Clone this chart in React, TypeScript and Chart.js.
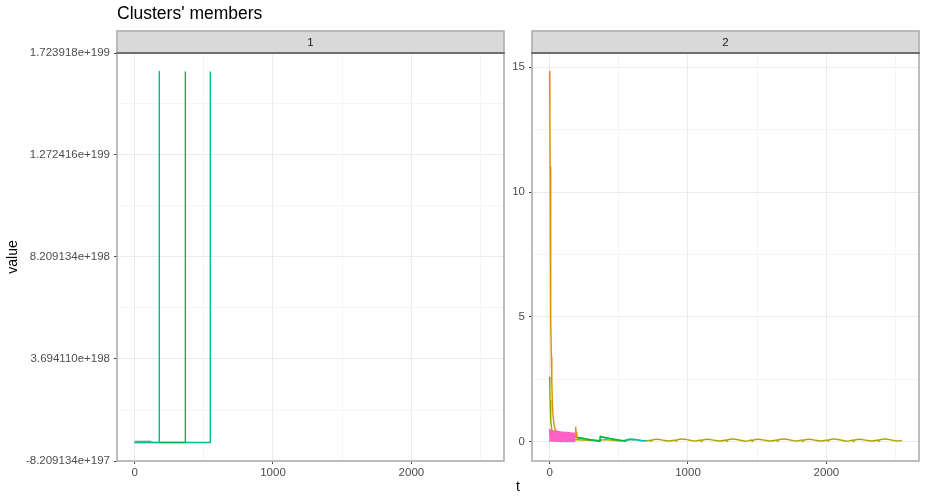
import React, { useEffect, useRef } from 'react';
import { Chart, registerables } from 'chart.js';
Chart.register(...registerables);

const FONT = "'Liberation Sans', Arial, Helvetica, sans-serif";
const GRID_MAJOR = '#EBEBEB';
const GRID_MINOR = '#F5F5F5';
const TICK_TEXT = '#4D4D4D';
const TICK_MARK = '#444444';

// ---- shared x axis ----
const xMin = -127;
const xMax = 2669;
const xMajor = [0, 1000, 2000];
const xMajorLabels = ['0', '1000', '2000'];
const xMinor = [500, 1500, 2500];

// ---- panel 1 y axis ----
const p1YMin = -8.209134e197;
const p1YMax = 1.723918e199;
const p1YMajor = [-8.209134e197, 3.69411e198, 8.209134e198, 1.272416e199, 1.723918e199];
const p1YMajorLabels = ['-8.209134e+197', '3.694110e+198', '8.209134e+198', '1.272416e+199', '1.723918e+199'];
const p1YMinor = [1.436598e198, 5.951622e198, 1.046665e199, 1.498167e199];

// ---- panel 2 y axis ----
const p2YMin = -0.77;
const p2YMax = 15.57;
const p2YMajor = [0, 5, 10, 15];
const p2YMajorLabels = ['0', '5', '10', '15'];
const p2YMinor = [2.5, 7.5, 12.5];

// ---- panel 1 series ----
const p1LightT = [0, 177, 178, 179, 546, 547];
const p1LightV = [0, 0, 1.641827e199, 0, 0, 1.641827e199];
const p1DarkT = [178, 366, 367];
const p1DarkV = [0, 0, 1.641827e199];
const p1CyanT = [0, 178];
const p1CyanV = [0, 0];
const p1GrayT = [0, 122];
const p1GrayV = [5e196, 5e196];

// ---- panel 2 series ----
const goldT = [0, 2, 4, 6, 8, 10, 13, 16, 20, 25, 32, 40, 55, 75, 100, 130, 160, 186, 189, 192, 197, 205, 220];
const goldV = [14.83, 13.2, 11.0, 8.6, 6.5, 4.9, 3.4, 2.4, 1.6, 1.05, 0.7, 0.5, 0.36, 0.28, 0.24, 0.21, 0.19, 0.18, 0.58, 0.35, 0.2, 0.12, 0.08];

const ygT = [0, 2, 4, 7, 10, 14, 19, 25, 33, 45, 70, 110, 150, 185];
const ygV = [2.59, 2.1, 1.65, 1.2, 0.85, 0.58, 0.4, 0.28, 0.2, 0.15, 0.12, 0.1, 0.09, 0.08];

const pinkT = [0, 4, 8, 12, 16, 20, 24, 28, 32, 36, 40, 44, 48, 52, 56, 60, 64, 68, 72, 76, 80, 84, 88, 92, 96, 100, 104, 108, 112, 116, 120, 124, 128, 132, 136, 140, 144, 148, 152, 156, 160, 164, 168, 172, 176, 180, 184];
const pinkV = [0.52, 0.04, 0.47, 0.03, 0.45, 0.05, 0.44, 0.02, 0.43, 0.04, 0.42, 0.03, 0.42, 0.05, 0.41, 0.03, 0.4, 0.04, 0.4, 0.02, 0.39, 0.04, 0.39, 0.03, 0.38, 0.05, 0.38, 0.03, 0.37, 0.04, 0.37, 0.02, 0.37, 0.04, 0.36, 0.03, 0.36, 0.05, 0.36, 0.03, 0.35, 0.04, 0.35, 0.02, 0.35, 0.04, 0.34];

const blueT = [0, 10, 30, 60, 100, 140, 185];
const blueV = [0.02, 0.1, 0.04, 0.02, 0.01, 0.02, 0.01];

const greenT = [183, 186, 210, 250, 300, 340, 364, 366, 369, 400, 450, 500, 540, 549];
const greenV = [0.2, 0.19, 0.17, 0.13, 0.08, 0.05, 0.03, 0.22, 0.21, 0.17, 0.12, 0.07, 0.04, 0.04];

const tealT = [183, 186, 210, 250, 300, 340, 364, 366, 369, 400, 450, 500, 545, 549, 553, 580, 610];
const tealV = [0.17, 0.17, 0.15, 0.12, 0.07, 0.04, 0.02, 0.19, 0.19, 0.16, 0.11, 0.06, 0.03, 0.01, 0.06, 0.09, 0.07];

const cyanT = [549, 553, 590, 630, 670, 700];
const cyanV = [0.02, 0.07, 0.1, 0.08, 0.04, 0.05];

const oliveT = [183, 187, 230, 275, 320, 362, 366, 370, 413, 458, 503, 545, 549, 553, 596, 641, 686, 728, 732, 736, 779, 824, 869, 911, 915, 919, 962, 1007, 1052, 1094, 1098, 1102, 1145, 1190, 1235, 1277, 1281, 1285, 1328, 1373, 1418, 1460, 1464, 1468, 1511, 1556, 1601, 1643, 1647, 1651, 1694, 1739, 1784, 1826, 1830, 1834, 1877, 1922, 1967, 2009, 2013, 2017, 2060, 2105, 2150, 2192, 2196, 2200, 2243, 2288, 2333, 2375, 2379, 2383, 2426, 2471, 2516, 2545];
const oliveV = [0.05, 0.08, 0.07, 0.06, 0.05, 0.06, 0.04, 0.07, 0.08, 0.06, 0.04, 0.05, 0.03, 0.07, 0.1, 0.07, 0.03, 0.06, 0.01, 0.06, 0.1, 0.06, 0.03, 0.07, 0.01, 0.07, 0.11, 0.07, 0.03, 0.07, 0.0, 0.06, 0.1, 0.06, 0.03, 0.07, 0.01, 0.07, 0.11, 0.07, 0.02, 0.07, 0.0, 0.06, 0.1, 0.06, 0.03, 0.07, 0.01, 0.07, 0.11, 0.07, 0.03, 0.07, 0.0, 0.06, 0.1, 0.06, 0.03, 0.07, 0.01, 0.07, 0.11, 0.07, 0.02, 0.07, 0.0, 0.06, 0.1, 0.06, 0.03, 0.07, 0.01, 0.07, 0.11, 0.07, 0.03, 0.06];

function series(t: number[], v: number[], color: string, tension = 0) {
  return {
    data: t.map((x, i) => ({ x, y: v[i] })),
    borderColor: color,
    backgroundColor: color,
    borderWidth: 1.4,
    pointRadius: 0,
    tension,
    fill: false,
    borderJoinStyle: 'round' as const,
  };
}

const STRIP_TOP = 31;

function decorPlugin(stripLabel: string, extra?: (ctx: CanvasRenderingContext2D) => void) {
  return {
    id: 'decor' + stripLabel,
    afterDatasetsDraw(chart: any) {
      const ctx: CanvasRenderingContext2D = chart.ctx;
      const a = chart.chartArea;
      ctx.save();
      // panel border
      ctx.strokeStyle = '#ADADAD';
      ctx.lineWidth = 1.6;
      ctx.strokeRect(a.left, a.top, a.right - a.left, a.bottom - a.top);
      // strip
      ctx.fillStyle = '#D9D9D9';
      ctx.fillRect(a.left, STRIP_TOP, a.right - a.left, a.top - STRIP_TOP);
      ctx.strokeRect(a.left, STRIP_TOP, a.right - a.left, a.top - STRIP_TOP);
      ctx.strokeStyle = '#6E6E6E';
      ctx.lineWidth = 2;
      ctx.beginPath();
      ctx.moveTo(a.left - 0.8, a.top);
      ctx.lineTo(a.right + 0.8, a.top);
      ctx.stroke();
      ctx.fillStyle = '#1A1A1A';
      ctx.font = `11.5px ${FONT}`;
      ctx.textAlign = 'center';
      ctx.textBaseline = 'middle';
      ctx.fillText(stripLabel, (a.left + a.right) / 2, (STRIP_TOP + a.top) / 2 + 0.5);
      if (extra) extra(ctx);
      ctx.restore();
    },
  };
}

function buildOptions(p: {
  yMin: number; yMax: number; yMajor: number[]; yMajorLabels: string[]; yMinor: number[];
  yAxisWidth: number; padRight: number;
}) {
  const xAll = [...xMajor, ...xMinor].sort((a, b) => a - b);
  const yAll = [...p.yMajor, ...p.yMinor].sort((a, b) => a - b);
  return {
    responsive: false,
    animation: false,
    devicePixelRatio: 1,
    layout: { padding: { top: 53, left: 0, right: p.padRight, bottom: 0 } },
    plugins: { legend: { display: false }, tooltip: { enabled: false }, title: { display: false } },
    elements: { point: { radius: 0 } },
    scales: {
      x: {
        type: 'linear',
        min: xMin,
        max: xMax,
        afterBuildTicks: (s: any) => { s.ticks = xAll.map((v) => ({ value: v })); },
        afterFit: (s: any) => { s.height = 42; },
        border: { display: false },
        grid: {
          color: (c: any) => (c.tick && xMinor.includes(c.tick.value) ? GRID_MINOR : GRID_MAJOR),
          tickColor: (c: any) => (c.tick && xMinor.includes(c.tick.value) ? 'rgba(0,0,0,0)' : TICK_MARK),
          lineWidth: 1,
          tickLength: 3,
          drawTicks: true,
        },
        ticks: {
          autoSkip: false, maxRotation: 0, minRotation: 0, padding: 2,
          color: TICK_TEXT, font: { size: 11.5, family: FONT },
          callback: (v: number) => { const i = xMajor.indexOf(v); return i >= 0 ? xMajorLabels[i] : ''; },
        },
      },
      y: {
        type: 'linear',
        min: p.yMin,
        max: p.yMax,
        afterBuildTicks: (s: any) => { s.ticks = yAll.map((v) => ({ value: v })); },
        afterFit: (s: any) => { s.width = p.yAxisWidth; },
        border: { display: false },
        grid: {
          color: (c: any) => (c.tick && p.yMinor.includes(c.tick.value) ? GRID_MINOR : GRID_MAJOR),
          tickColor: (c: any) => (c.tick && p.yMinor.includes(c.tick.value) ? 'rgba(0,0,0,0)' : TICK_MARK),
          lineWidth: 1,
          tickLength: 3,
          drawTicks: true,
        },
        ticks: {
          autoSkip: false, padding: 4,
          color: TICK_TEXT, font: { size: 11.5, family: FONT },
          callback: (v: number) => { const i = p.yMajor.indexOf(v); return i >= 0 ? p.yMajorLabels[i] : ''; },
        },
      },
    },
  };
}

const C1_W = 508;
const C2_LEFT = 508;
const C2_W = 421;

export default function App() {
  const ref1 = useRef<HTMLCanvasElement>(null);
  const ref2 = useRef<HTMLCanvasElement>(null);

  useEffect(() => {
    const c1 = new Chart(ref1.current as HTMLCanvasElement, {
      type: 'line',
      data: {
        datasets: [
          series(p1DarkT, p1DarkV, '#00B855'),
          series(p1LightT, p1LightV, '#00C08B'),
          series(p1CyanT, p1CyanV, '#00BFC4'),
          series(p1GrayT, p1GrayV, '#9E9E9E'),
        ] as any,
      },
      options: buildOptions({
        yMin: p1YMin, yMax: p1YMax, yMajor: p1YMajor, yMajorLabels: p1YMajorLabels, yMinor: p1YMinor,
        yAxisWidth: 117, padRight: C1_W - 504,
      }) as any,
      plugins: [
        decorPlugin('1', (ctx) => {
          ctx.fillStyle = '#000000';
          ctx.font = `17.5px ${FONT}`;
          ctx.textAlign = 'left';
          ctx.textBaseline = 'alphabetic';
          ctx.fillText("Clusters' members", 117, 19);
          ctx.save();
          ctx.translate(13, 257);
          ctx.rotate(-Math.PI / 2);
          ctx.font = `14px ${FONT}`;
          ctx.textAlign = 'center';
          ctx.textBaseline = 'middle';
          ctx.fillText('value', 0, 0);
          ctx.restore();
        }),
      ],
    });

    const c2 = new Chart(ref2.current as HTMLCanvasElement, {
      type: 'line',
      data: {
        datasets: [
          series(pinkT, pinkV, '#FF61C3'),
          series(goldT, goldV, '#D99100'),
          series(ygT, ygV, '#8CAB00'),
          series(blueT, blueV, '#619CFF'),
          series(greenT, greenV, '#00BA38', 0.3),
          series(tealT, tealV, '#00C08B', 0.3),
          series(cyanT, cyanV, '#00BFC4', 0.3),
          series(oliveT, oliveV, '#B3A300', 0.3),
        ] as any,
      },
      options: buildOptions({
        yMin: p2YMin, yMax: p2YMax, yMajor: p2YMajor, yMajorLabels: p2YMajorLabels, yMinor: p2YMinor,
        yAxisWidth: 532 - C2_LEFT, padRight: C2_LEFT + C2_W - 919,
      }) as any,
      plugins: [
        decorPlugin('2', (ctx) => {
          ctx.fillStyle = '#000000';
          ctx.font = `14px ${FONT}`;
          ctx.textAlign = 'center';
          ctx.textBaseline = 'middle';
          ctx.fillText('t', 518 - C2_LEFT, 487);
        }),
      ],
    });

    return () => {
      c1.destroy();
      c2.destroy();
    };
  }, []);

  return (
    <div style={{ position: 'absolute', left: 0, top: 0, width: 929, height: 503, background: '#FFFFFF' }}>
      <canvas
        ref={ref1}
        width={C1_W}
        height={503}
        style={{ position: 'absolute', left: 0, top: 0, width: C1_W, height: 503 }}
      />
      <canvas
        ref={ref2}
        width={C2_W}
        height={503}
        style={{ position: 'absolute', left: C2_LEFT, top: 0, width: C2_W, height: 503 }}
      />
    </div>
  );
}
